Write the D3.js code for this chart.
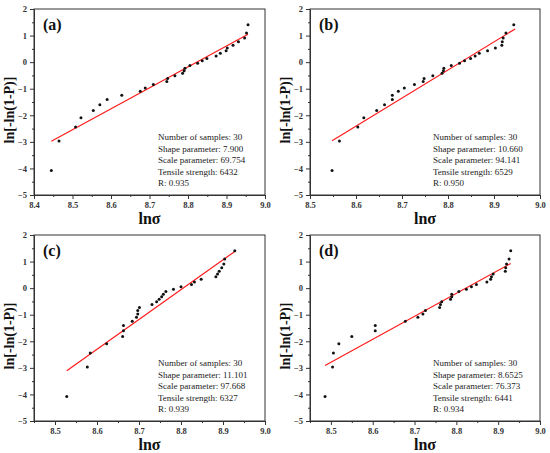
<!DOCTYPE html>
<html>
<head>
<meta charset="utf-8">
<script src="https://cdn.jsdelivr.net/npm/d3@7"></script>
<style>
  body { margin: 0; background: #fff; }
  svg text { font-family: "Liberation Serif", "Times New Roman", serif; }
</style>
</head>
<body>
<div class="chart"></div>
<script>
// Weibull plots, ln[-ln(1-P)] against ln(sigma), four batches

// ranks (same 30 probabilities for every panel)
const yRank = [-4.08, -2.97, -2.44, -2.09, -1.82, -1.60, -1.41, -1.25, -1.10, -0.97,
               -0.84, -0.73, -0.62, -0.51, -0.42, -0.32, -0.23, -0.13, -0.04, 0.05,
               0.14, 0.23, 0.33, 0.43, 0.53, 0.64, 0.77, 0.91, 1.10, 1.41];

const xA = [8.445, 8.465, 8.508, 8.522, 8.554, 8.571, 8.590, 8.628, 8.676, 8.689,
            8.710, 8.745, 8.747, 8.766, 8.786, 8.790, 8.792, 8.805, 8.825, 8.837,
            8.849, 8.873, 8.884, 8.899, 8.902, 8.917, 8.931, 8.947, 8.952, 8.956];
const xB = [8.548, 8.564, 8.604, 8.617, 8.645, 8.662, 8.679, 8.679, 8.692, 8.705,
            8.727, 8.746, 8.748, 8.767, 8.787, 8.790, 8.791, 8.807, 8.825, 8.836,
            8.849, 8.859, 8.868, 8.886, 8.903, 8.917, 8.918, 8.920, 8.926, 8.943];
const xC = [8.528, 8.577, 8.584, 8.623, 8.661, 8.663, 8.663, 8.684, 8.694, 8.697,
            8.697, 8.701, 8.731, 8.742, 8.748, 8.754, 8.758, 8.764, 8.782, 8.800,
            8.825, 8.832, 8.848, 8.883, 8.887, 8.891, 8.897, 8.902, 8.904, 8.928];
const xD = [8.486, 8.504, 8.506, 8.519, 8.550, 8.606, 8.606, 8.678, 8.708, 8.720,
            8.726, 8.760, 8.762, 8.765, 8.786, 8.789, 8.789, 8.806, 8.824, 8.836,
            8.848, 8.873, 8.882, 8.884, 8.888, 8.917, 8.918, 8.920, 8.926, 8.930];

// fitted lines, end points
const fitX = [[8.445, 8.956], [8.548, 8.946], [8.528, 8.928], [8.486, 8.930]];
const fitY = [[-2.98, 1.05], [-2.96, 1.25], [-3.11, 1.38], [-2.91, 0.93]];

const panelLabels = ['(a)', '(b)', '(c)', '(d)'];
const sampleCounts = [30, 30, 30, 30];
const shapeParams = ['7.900', '10.660', '11.101', '8.6525'];
const scaleParams = ['69.754', '94.141', '97.668', '76.373'];
const strengths = ['6432', '6529', '6327', '6441'];
const rValues = ['0.935', '0.950', '0.939', '0.934'];

const xDomains = [[8.4, 9.0], [8.5, 9.0], [8.45, 9.0], [8.45, 9.0]];
const xTickVals = [[8.4, 8.5, 8.6, 8.7, 8.8, 8.9, 9.0],
                   [8.5, 8.6, 8.7, 8.8, 8.9, 9.0],
                   [8.5, 8.6, 8.7, 8.8, 8.9, 9.0],
                   [8.5, 8.6, 8.7, 8.8, 8.9, 9.0]];
const yTickVals = [-5, -4, -3, -2, -1, 0, 1, 2];

// panel frames
const frames = [
    { left: 34,  top: 9,   width: 231, height: 186 },
    { left: 310, top: 9,   width: 230, height: 186 },
    { left: 34,  top: 235, width: 231, height: 186 },
    { left: 310, top: 235, width: 230, height: 186 },
];
const xSeries = [xA, xB, xC, xD];

const svg = d3.select('.chart')
    .append('svg')
    .attr('width', 550)
    .attr('height', 453);

const axisColor = '#333333';

frames.forEach((f, p) => {
    const g = svg.append('g')
        .attr('transform', `translate(${f.left}, ${f.top})`);

    const x = d3.scaleLinear().domain(xDomains[p]).range([0, f.width]);
    const y = d3.scaleLinear().domain([-5, 2]).range([f.height, 0]);

    // minor ticks between majors
    const xMinor = d3.range(xDomains[p][0], 9.0, 0.05)
        .filter(v => Math.abs(Math.round(v * 10) - v * 10) > 0.01);
    const yMinor = d3.range(-4.5, 2, 1);

    const xAxis = g.append('g')
        .attr('transform', `translate(0, ${f.height})`)
        .call(d3.axisBottom(x).tickValues(xTickVals[p]).tickFormat(d3.format('.1f'))
            .tickSize(4).tickSizeOuter(0));
    g.append('g')
        .attr('transform', `translate(0, ${f.height})`)
        .call(d3.axisBottom(x).tickValues(xMinor).tickFormat('').tickSize(2).tickSizeOuter(0))
        .select('.domain').remove();

    const yAxis = g.append('g')
        .call(d3.axisLeft(y).tickValues(yTickVals).tickFormat(d3.format('d'))
            .tickSize(4).tickSizeOuter(0));
    g.append('g')
        .call(d3.axisLeft(y).tickValues(yMinor).tickFormat('').tickSize(2).tickSizeOuter(0))
        .select('.domain').remove();

    [xAxis, yAxis].forEach(a => {
        a.selectAll('text')
            .attr('fill', '#333')
            .style('font-size', '8.5px')
            .style('font-weight', 'bold');
    });
    xAxis.selectAll('text').attr('dy', '0.75em');
    g.selectAll('.tick line, .domain').attr('stroke', axisColor);

    // frame
    g.append('rect')
        .attr('width', f.width)
        .attr('height', f.height)
        .attr('fill', 'none')
        .attr('stroke', axisColor)
        .attr('stroke-width', 1);

    // fit line
    g.append('line')
        .attr('x1', x(fitX[p][0])).attr('y1', y(fitY[p][0]))
        .attr('x2', x(fitX[p][1])).attr('y2', y(fitY[p][1]))
        .attr('stroke', '#ff1a1a')
        .attr('stroke-width', 1.2);

    // points
    g.selectAll('.pt')
        .data(xSeries[p])
        .enter()
        .append('circle')
        .attr('class', 'pt')
        .attr('cx', d => x(d))
        .attr('cy', (d, i) => y(yRank[i]))
        .attr('r', 1.5)
        .attr('fill', '#111');

    // panel label
    g.append('text')
        .attr('x', 9)
        .attr('y', 21)
        .style('font-size', '16px')
        .style('font-weight', 'bold')
        .attr('fill', '#111')
        .text(panelLabels[p]);

    // stats block
    const stats = [
        `Number of samples: ${sampleCounts[p]}`,
        `Shape parameter: ${shapeParams[p]}`,
        `Scale parameter: ${scaleParams[p]}`,
        `Tensile strength: ${strengths[p]}`,
        `R: ${rValues[p]}`,
    ];
    g.selectAll('.stat')
        .data(stats)
        .enter()
        .append('text')
        .attr('class', 'stat')
        .attr('x', p % 2 === 0 ? 124 : 123)
        .attr('y', (d, i) => 131 + i * 11.5)
        .style('font-size', '9px')
        .attr('fill', '#222')
        .text(d => d);

    // axis titles
    g.append('text')
        .attr('x', f.width / 2)
        .attr('y', f.height + 29)
        .attr('text-anchor', 'middle')
        .style('font-size', '16px')
        .style('font-weight', 'bold')
        .attr('fill', '#111')
        .text('lnσ');

    g.append('text')
        .attr('transform', `translate(${-20}, ${f.height / 2 + 8}) rotate(-90)`)
        .attr('text-anchor', 'middle')
        .style('font-size', '14px')
        .style('font-weight', 'bold')
        .attr('fill', '#111')
        .text('ln[-ln(1-P)]');
});
</script>
</body>
</html>
